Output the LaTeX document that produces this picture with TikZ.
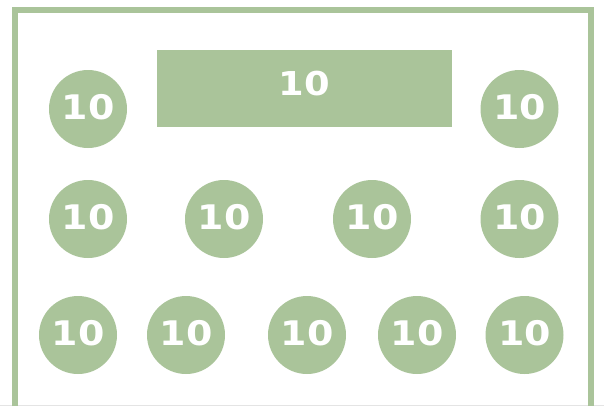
\documentclass[tikz,border=0pt]{standalone}
\usepackage{fontspec}
\usepackage{xcolor}
\usepackage{tikz}
\newfontfamily\seatfont{DejaVu Sans}[FakeStretch=1.12]
\definecolor{tablegreen}{HTML}{AAC49A}
\definecolor{edgegray}{HTML}{E4E4E4}

\begin{document}
\begin{tikzpicture}[x=1bp, y=-1bp]
  \useasboundingbox (0,0) rectangle (604,406);
  \tikzset{
    roundtable/.style={circle, fill=tablegreen, minimum size=78bp, inner sep=0pt,
      text depth=5bp, text=white, font=\seatfont\bfseries\fontsize{34}{34}\selectfont},
    headtable/.style={rectangle, fill=tablegreen, minimum width=295bp, minimum height=77bp,
      inner sep=0pt, text depth=11bp, text=white, font=\seatfont\bfseries\fontsize{33}{33}\selectfont}
  }
  % room walls (open at the bottom)
  \draw[edgegray, line width=1bp] (0,405.5) -- (604,405.5);
  \draw[tablegreen, line width=6bp] (15,406) -- (15,10) -- (591,10) -- (591,406);
  % head table
  \node[headtable] (head) at (304.5,88.5) {10};
  % first row
  \node[roundtable] (t1) at (88,109) {10};
  \node[roundtable] (t2) at (519.5,109) {10};
  % second row
  \node[roundtable] (t3) at (88,219) {10};
  \node[roundtable] (t4) at (224,219) {10};
  \node[roundtable] (t5) at (372,219) {10};
  \node[roundtable] (t6) at (519.5,219) {10};
  % third row
  \node[roundtable] (t7) at (78,335) {10};
  \node[roundtable] (t8) at (186,335) {10};
  \node[roundtable] (t9) at (307,335) {10};
  \node[roundtable] (t10) at (417,335) {10};
  \node[roundtable] (t11) at (524.5,335) {10};
\end{tikzpicture}
\end{document}
